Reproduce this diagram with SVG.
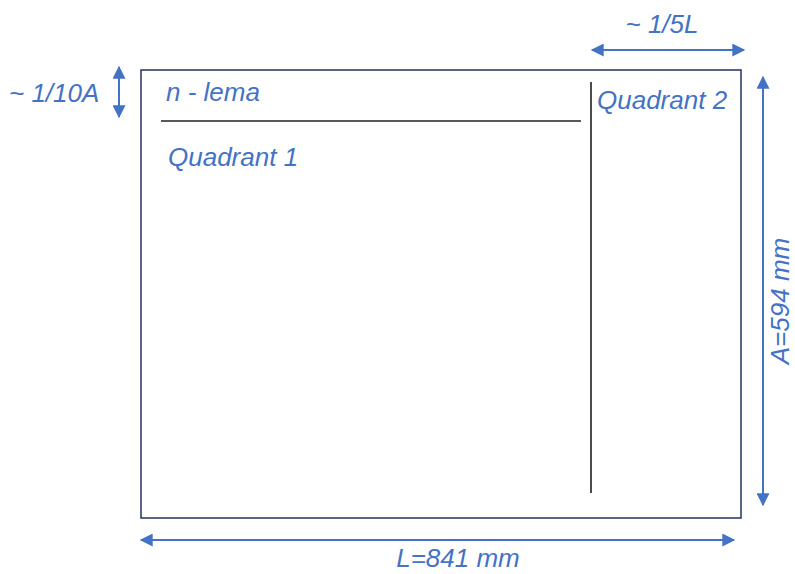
<svg xmlns="http://www.w3.org/2000/svg" width="795" height="574" viewBox="0 0 795 574">
<style>
.lbl{font-family:"Liberation Sans",Arial,sans-serif;font-style:italic;font-size:26px;fill:#4472C4}
.dim{stroke:#4472C4;stroke-width:2;fill:none}
</style>
<defs>
<marker id="ah" viewBox="0 0 10 10" refX="9" refY="5" markerWidth="7" markerHeight="6.5" orient="auto-start-reverse" markerUnits="strokeWidth">
<path d="M0,0 L10,5 L0,10 z" fill="#4472C4"/>
</marker>
</defs>
<rect width="795" height="574" fill="#fff"/>
<g id="sheet">
<rect x="141" y="70" width="600" height="448" fill="none" stroke="#2F3F66" stroke-width="1.6"/>
<line x1="161" y1="121" x2="581" y2="121" stroke="#222" stroke-width="1.5"/>
<line x1="591" y1="82" x2="591" y2="493" stroke="#111" stroke-width="1.5"/>
<text class="lbl" x="166" y="101">n - lema</text>
<text class="lbl" x="168" y="166">Quadrant 1</text>
<text class="lbl" x="597" y="109">Quadrant 2</text>
</g>
<g id="connectors">
<line class="dim" x1="119" y1="67" x2="119" y2="117" marker-start="url(#ah)" marker-end="url(#ah)"/>
<line class="dim" x1="592" y1="50" x2="744" y2="50" marker-start="url(#ah)" marker-end="url(#ah)"/>
<line class="dim" x1="763" y1="77" x2="763" y2="505" marker-start="url(#ah)" marker-end="url(#ah)"/>
<line class="dim" x1="141" y1="540" x2="734" y2="540" marker-start="url(#ah)" marker-end="url(#ah)"/>
</g>
<g id="labels">
<text class="lbl" x="9" y="102">~ 1/10A</text>
<text class="lbl" x="662" y="33" text-anchor="middle">~ 1/5L</text>
<text class="lbl" x="458" y="567" text-anchor="middle">L=841 mm</text>
<text class="lbl" transform="translate(789,301) rotate(-90)" text-anchor="middle">A=594 mm</text>
</g>
</svg>
